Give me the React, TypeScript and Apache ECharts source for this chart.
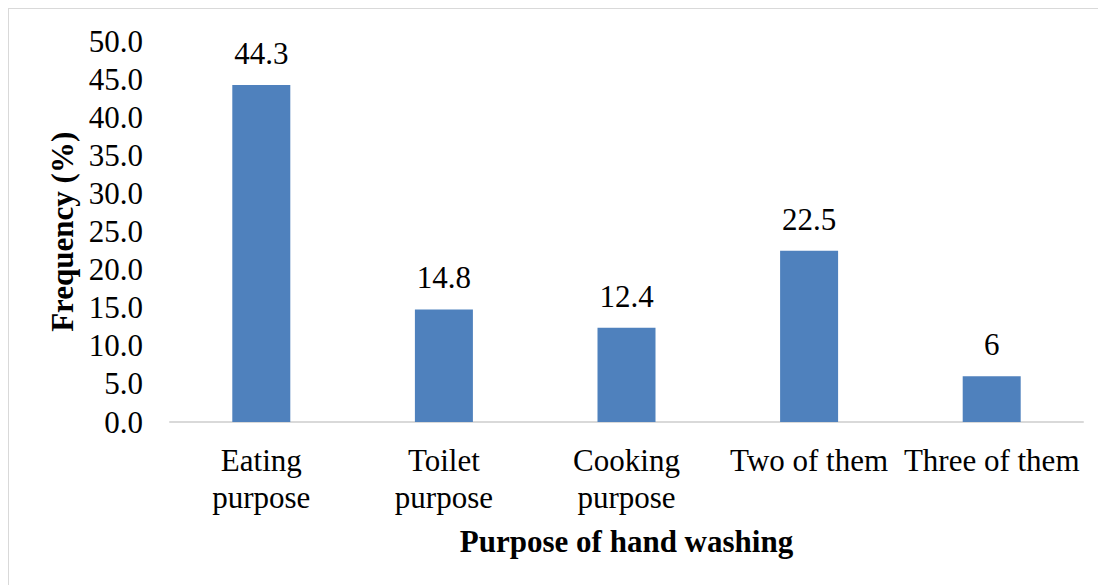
import React, { useEffect, useRef } from "react";
import * as echarts from "echarts";

const categories = ["Eating\npurpose", "Toilet\npurpose", "Cooking\npurpose", "Two of them", "Three of them"];
const values = [44.3, 14.8, 12.4, 22.5, 6];
const valueLabels = ["44.3", "14.8", "12.4", "22.5", "6"];
const yTitle = "Frequency (%)";
const xTitle = "Purpose of hand washing";

const FONT = "Liberation Serif";

export default function App() {
  const ref = useRef<HTMLDivElement>(null);
  useEffect(() => {
    const chart = echarts.init(ref.current!, null, { renderer: "svg" });
    chart.setOption({
      animation: false,
      backgroundColor: "#ffffff",
      textStyle: { fontFamily: FONT },
      grid: { left: 170, right: 15, top: 41.6, bottom: 163, containLabel: false },
      graphic: [
        { type: "line", shape: { x1: 8, y1: 8.5, x2: 1098, y2: 8.5 }, style: { stroke: "#d9d9d9", lineWidth: 1 } },
        { type: "line", shape: { x1: 8.5, y1: 8, x2: 8.5, y2: 585 }, style: { stroke: "#d9d9d9", lineWidth: 1 } },
      ],
      xAxis: {
        type: "category",
        data: categories,
        axisLine: { show: true, lineStyle: { color: "#d9d9d9", width: 2 } },
        axisTick: { show: false },
        axisLabel: { color: "#000", fontSize: 31, fontFamily: FONT, lineHeight: 37, margin: 20, interval: 0 },
        name: xTitle,
        nameLocation: "middle",
        nameGap: 104,
        nameTextStyle: { color: "#000", fontSize: 31, fontWeight: "bold", fontFamily: FONT },
      },
      yAxis: {
        type: "value",
        min: 0,
        max: 50,
        interval: 5,
        axisLine: { show: false },
        axisTick: { show: false },
        splitLine: { show: false },
        axisLabel: { color: "#000", fontSize: 31, fontFamily: FONT, margin: 27, formatter: (v: number) => v.toFixed(1) },
        name: yTitle,
        nameLocation: "middle",
        nameGap: 88,
        nameRotate: 90,
        nameTextStyle: { color: "#000", fontSize: 31, fontWeight: "bold", fontFamily: FONT },
      },
      series: [
        {
          type: "bar",
          data: values,
          barWidth: 58,
          itemStyle: { color: "#4f81bd" },
          label: {
            show: true,
            position: "top",
            distance: 16,
            color: "#000",
            fontSize: 31,
            fontFamily: FONT,
            formatter: (p: any) => valueLabels[p.dataIndex],
          },
        },
      ],
    });
    return () => chart.dispose();
  }, []);
  return <div ref={ref} style={{ position: "fixed", left: 0, top: 0, width: 1098, height: 585 }} />;
}
